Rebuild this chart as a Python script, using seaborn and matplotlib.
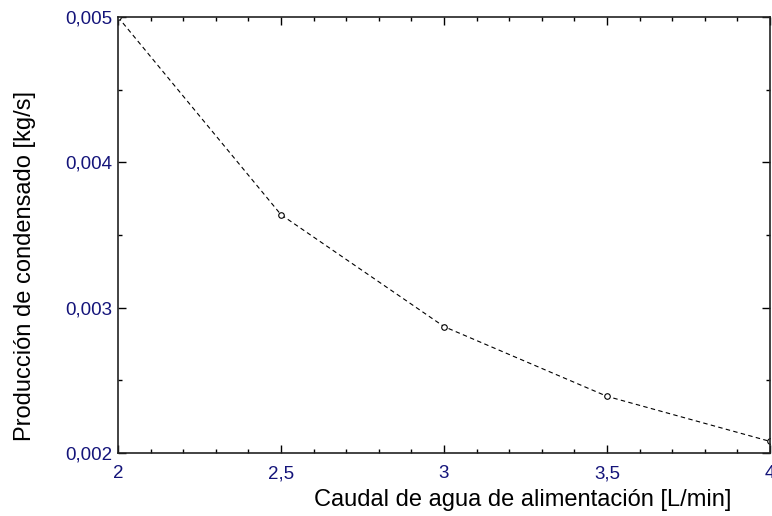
import matplotlib
matplotlib.use("Agg")
import matplotlib.pyplot as plt
from matplotlib.ticker import MultipleLocator, FuncFormatter
import seaborn as sns

# data
caudal = [2.0, 2.5, 3.0, 3.5, 4.0]
produccion = [0.00500, 0.00364, 0.00287, 0.00239, 0.00208]

sns.set_style("ticks")
plt.rcParams["font.family"] = ["Liberation Sans", "DejaVu Sans"]

fig = plt.figure(figsize=(7.72, 5.16), dpi=100)
ax = fig.add_axes([0.1528, 0.1221, 0.8446, 0.8449])

sns.lineplot(x=caudal, y=produccion, ax=ax, color="black", linestyle=(0, (4, 3)),
             linewidth=0.8, marker="o", markersize=4, markerfacecolor="white",
             markeredgecolor="black", markeredgewidth=0.8)

ax.set_xlim(2, 4)
ax.set_ylim(0.002, 0.005)
ax.xaxis.set_major_locator(MultipleLocator(0.5))
ax.xaxis.set_minor_locator(MultipleLocator(0.1))
ax.yaxis.set_major_locator(MultipleLocator(0.001))
ax.yaxis.set_minor_locator(MultipleLocator(0.0005))

# decimal comma
ax.xaxis.set_major_formatter(FuncFormatter(lambda v, p: f"{v:g}".replace(".", ",")))
ax.yaxis.set_major_formatter(FuncFormatter(lambda v, p: f"{v:.3f}".replace(".", ",")))

ax.tick_params(which="both", direction="in", top=True, right=True,
               colors="black", labelcolor="#14147a", labelsize=13.5, width=1)
ax.tick_params(which="major", length=6)
ax.tick_params(which="minor", length=3)
ax.tick_params(axis="x", which="major", pad=9)
ax.tick_params(axis="y", which="major", pad=4)
for s in ax.spines.values():
    s.set_linewidth(1.2)
    s.set_color("#222222")

ax.set_xlabel("Caudal de agua de alimentación [L/min]", fontsize=17, color="black")
ax.set_ylabel("Producción de condensado [kg/s]", fontsize=17, color="black")
ax.xaxis.label.set_va("center")
ax.yaxis.label.set_va("center")
ax.xaxis.set_label_coords(0.621, -0.108)
ax.yaxis.set_label_coords(-0.143, 0.429)

fig.savefig("out.png", dpi=100)
